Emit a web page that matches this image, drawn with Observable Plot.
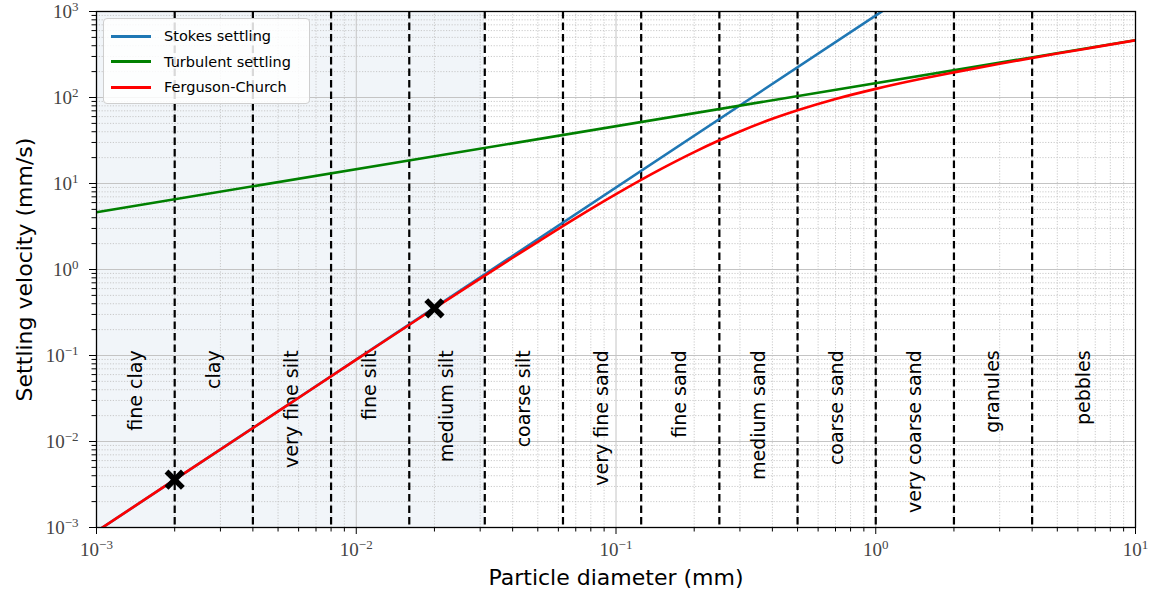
<!DOCTYPE html>
<html><head><meta charset="utf-8">
<script src="https://cdn.jsdelivr.net/npm/d3@7"></script>
<script src="https://cdn.jsdelivr.net/npm/@observablehq/plot@0.6"></script>
<style>
body{margin:0;background:#fff}
#wrap{position:relative;width:1149px;height:597px}
#legend{position:absolute;left:103px;top:18px;width:207px;height:86px;box-sizing:border-box;border:1px solid #cfcfcf;border-radius:4px;background:rgba(255,255,255,0.85);font-family:"DejaVu Sans",sans-serif;font-size:14.5px;color:#000}
#legend .row{position:absolute;left:7px;height:20px;display:flex;align-items:center}
#legend .sw{width:40px;height:3px;margin-right:13px}
</style>
</head><body><div id="wrap"></div><script>
// ---- data ----
const fcDiam = [0.001, 0.002, 0.005, 0.01, 0.02, 0.03, 0.04, 0.05, 0.07, 0.1, 0.15, 0.2, 0.25, 0.3, 0.4, 0.5, 0.7, 1, 1.5, 2, 3, 5, 7, 10];
const fcVel  = [0.000899, 0.0036, 0.0224, 0.0894, 0.354, 0.784, 1.37, 2.10, 3.96, 7.53, 14.9, 23.2, 31.8, 40.3, 56.5, 71.0, 96.1, 126, 165, 196, 247, 324, 385, 462];
const stokesDiam = [0.001, 1.06];
const stokesVel  = [0.000899, 1010];
const turbDiam = [0.001, 10];
const turbVel  = [4.64, 464];
const boundaries = [0.002, 0.004, 0.008, 0.016, 0.03125, 0.0625, 0.125, 0.25, 0.5, 1, 2, 4];
const bandEdges = [0.001, 0.002, 0.004, 0.008, 0.016, 0.03125, 0.0625, 0.125, 0.25, 0.5, 1, 2, 4, 10];
const classNames = ["fine clay", "clay", "very fine silt", "fine silt", "medium silt", "coarse silt", "very fine sand", "fine sand", "medium sand", "coarse sand", "very coarse sand", "granules", "pebbles"];
const markerDiam = [0.002, 0.02];
const markerVel = [0.0036, 0.354];
const shadeRange = [0.001, 0.03125];
const xMajor = [1e-3, 1e-2, 1e-1, 1, 10];
const yMajor = [1e-3, 1e-2, 1e-1, 1, 10, 100, 1000];
const seriesNames = ["Stokes settling", "Turbulent settling", "Ferguson-Church"];
const seriesColors = ["#1f77b4", "#008000", "#ff0000"];

// ---- derived tables ----
const minorOf = (lo, hi) => { const out = []; for (let e = lo; e < hi; e++) for (let m = 2; m <= 9; m++) out.push(+(m * Math.pow(10, e)).toPrecision(3)); return out; };
const xMinor = minorOf(-3, 1);
const yMinor = minorOf(-3, 3);
const fc = fcDiam.map((d, i) => ({d, v: fcVel[i]}));
const stokes = stokesDiam.map((d, i) => ({d, v: stokesVel[i]}));
const turb = turbDiam.map((d, i) => ({d, v: turbVel[i]}));
const bands = classNames.map((name, i) => ({name, x: Math.sqrt(bandEdges[i] * bandEdges[i + 1])}));
const markers = markerDiam.map((d, i) => ({d, v: markerVel[i]}));
const fmt = v => "10^" + Math.round(Math.log10(v));

const serif = "'Liberation Serif', 'DejaVu Serif', serif";
const sans = "'DejaVu Sans', sans-serif";

const chart = Plot.plot({
  width: 1149, height: 597,
  marginLeft: 96, marginRight: 14, marginTop: 11, marginBottom: 70,
  style: {fontFamily: sans, background: "#fff"},
  x: {type: "log", domain: [1e-3, 10], label: null},
  y: {type: "log", domain: [1e-3, 1e3], label: null},
  marks: [
    Plot.rect([shadeRange], {x1: d => d[0], x2: d => d[1], y1: 1e-3, y2: 1e3, fill: "#f1f5f9"}),
    Plot.gridX(xMinor, {stroke: "#c4c4c4", strokeOpacity: 1, strokeDasharray: "1.2,1.6", strokeWidth: 0.9}),
    Plot.gridY(yMinor, {stroke: "#c4c4c4", strokeOpacity: 1, strokeDasharray: "1.2,1.6", strokeWidth: 0.9}),
    Plot.gridX(xMajor, {stroke: "#c4c4c4", strokeOpacity: 1, strokeWidth: 1}),
    Plot.gridY(yMajor, {stroke: "#c4c4c4", strokeOpacity: 1, strokeWidth: 1}),
    Plot.ruleX(boundaries, {stroke: "#000", strokeWidth: 2.2, strokeDasharray: "7.5,4"}),
    Plot.text(bands, {x: "x", y: 0.115, text: "name", rotate: -90, textAnchor: "end", fontSize: 19, fill: "#000", fontFamily: sans}),
    Plot.line(stokes, {x: "d", y: "v", stroke: seriesColors[0], strokeWidth: 2.6, clip: true}),
    Plot.line(turb, {x: "d", y: "v", stroke: seriesColors[1], strokeWidth: 2.6, clip: true}),
    Plot.line(fc, {x: "d", y: "v", stroke: seriesColors[2], strokeWidth: 2.6, curve: "monotone-x", clip: true}),
    Plot.dot(markers, {x: "d", y: "v", symbol: "times", r: 7.5, stroke: "#000", strokeWidth: 5.5}),
    Plot.frame({stroke: "#000", strokeWidth: 1.3}),
    Plot.axisX(xMinor, {tickSize: 4.5, tickFormat: () => "", stroke: "#000", label: null}),
    Plot.axisY(yMinor, {tickSize: 4.5, tickFormat: () => "", stroke: "#000", label: null}),
    Plot.axisX(xMajor, {tickSize: 7, tickPadding: 7.5, tickFormat: fmt, fontSize: 19, fontFamily: serif, fill: "#444", stroke: "#000", label: null}),
    Plot.axisY(yMajor, {tickSize: 7, tickPadding: 11, tickFormat: fmt, fontSize: 19, fontFamily: serif, fill: "#444", stroke: "#000", label: null}),
    Plot.text(["Settling velocity (mm/s)"], {frameAnchor: "left", dx: -72, rotate: -90, textAnchor: "middle", lineAnchor: "middle", fontSize: 22, fill: "#000", fontFamily: sans}),
    Plot.text(["Particle diameter (mm)"], {frameAnchor: "bottom", dy: 50, textAnchor: "middle", lineAnchor: "middle", fontSize: 22, fill: "#000", fontFamily: sans})
  ]
});
// render tick labels as 10 with a raised exponent
const ns = "http://www.w3.org/2000/svg";
chart.querySelectorAll("text").forEach(t => {
  const m = /^10\^(-?\d+)$/.exec(t.textContent);
  if (!m) return;
  t.textContent = "";
  t.setAttribute("font-size", "19");
  t.setAttribute("font-family", serif);
  t.setAttribute("fill", "#444");
  const a = document.createElementNS(ns, "tspan");
  a.textContent = "10";
  a.setAttribute("font-size", "19");
  const b = document.createElementNS(ns, "tspan");
  b.textContent = m[1].replace("-", "\u2212");
  b.setAttribute("dy", "-7");
  b.setAttribute("font-size", "13");
  t.appendChild(a); t.appendChild(b);
});
const wrap = document.getElementById("wrap");
wrap.appendChild(chart);
const legend = document.createElement("div");
legend.id = "legend";
seriesNames.forEach((n, i) => {
  const row = document.createElement("div");
  row.className = "row";
  row.style.top = (7 + i * 25.5) + "px";
  const sw = document.createElement("div");
  sw.className = "sw";
  sw.style.background = seriesColors[i];
  const t = document.createElement("span");
  t.textContent = n;
  row.appendChild(sw); row.appendChild(t);
  legend.appendChild(row);
});
wrap.appendChild(legend);
</script></body></html>
